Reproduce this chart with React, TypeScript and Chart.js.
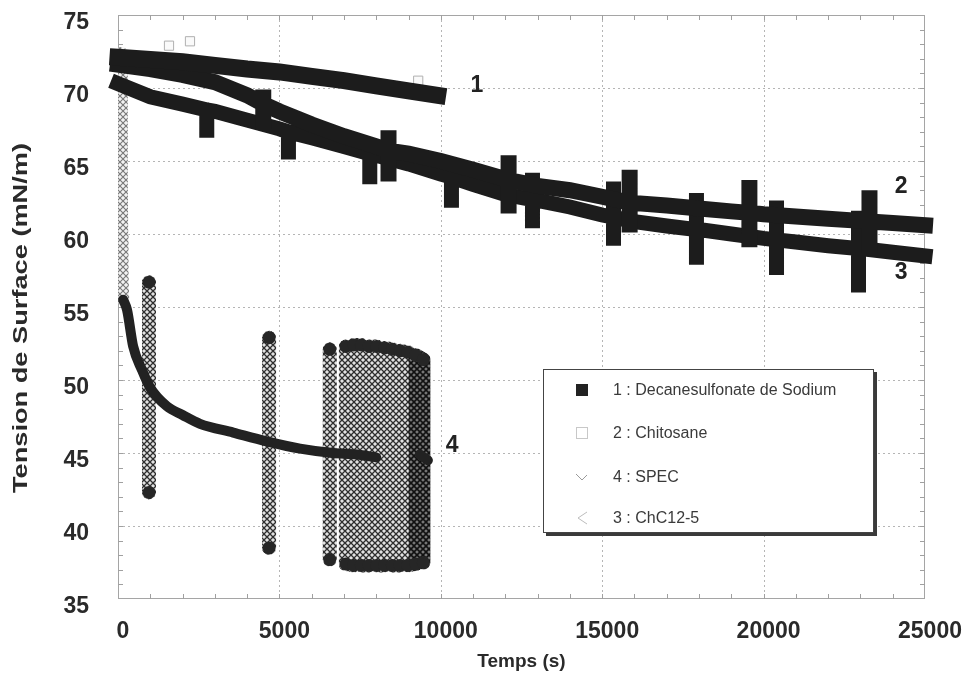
import React, { useEffect, useRef } from 'react';
import { Chart, registerables } from 'chart.js';

Chart.register(...registerables);

const FONT = "'Liberation Sans', Arial, sans-serif";

// Axis ticks
const xTicks = [0, 5000, 10000, 15000, 20000, 25000];
const yTicks = [35, 40, 45, 50, 55, 60, 65, 70, 75];

// Legend entries (in the order of the original legend)
const legendLabels = ['1 : Decanesulfonate de Sodium', '2 : Chitosane', '4 : SPEC', '3 : ChC12-5'];

// Series 1 : Decanesulfonate de Sodium
const decaneTime = [0, 1000, 2000, 3000, 4000, 5000, 6000, 7000, 8000, 9000, 9900];
const decaneTension = [72.1, 71.95, 71.8, 71.55, 71.3, 71.1, 70.8, 70.5, 70.15, 69.8, 69.5];

// Series 2 : Chitosane (main run, with perturbation spikes)
const chitosaneTime = [0, 1000, 2000, 3000, 4000, 4500, 4500, 4500, 4500, 5000, 6000, 7000, 8000,
  8380, 8380, 8380, 8380, 9000, 10000, 11000, 12100, 12100, 12100, 12100, 13000, 14000, 15000,
  15850, 15850, 15850, 15850, 17000, 18000, 19000, 19560, 19560, 19560, 19560, 20000, 21000,
  22000, 23000, 23280, 23280, 23280, 23280, 24000, 25000];
const chitosaneTension = [71.6, 71.3, 70.9, 70.4, 69.5, 68.9, 69.9, 67.2, 68.9, 68.4, 67.5, 66.7, 66.0,
  65.7, 67.1, 63.6, 65.7, 65.5, 65.0, 64.4, 63.7, 65.4, 61.4, 63.7, 63.3, 63.0, 62.55,
  62.15, 64.4, 60.1, 62.15, 61.95, 61.75, 61.55, 61.45, 63.7, 59.1, 61.45, 61.35, 61.2,
  61.05, 60.9, 60.85, 63.0, 58.7, 60.85, 60.75, 60.6];
// Chitosane isolated open-square points
const chitosaneStrayTime = [1580, 2230, 9300];
const chitosaneStrayTension = [72.9, 73.2, 70.5];

// Series 3 : ChC12-5
const chcTime = [0, 1000, 2000, 2750, 2750, 2750, 2750, 3000, 4000, 5000, 5280, 5280, 5280, 5280, 6000,
  7000, 7800, 7800, 7800, 7800, 8000, 9000, 10000, 10330, 10330, 10330, 10330, 11000, 12000,
  12840, 12840, 12840, 12840, 13000, 14000, 15000, 15350, 15350, 15350, 15350, 16000, 17000,
  17920, 17920, 17920, 17920, 18000, 19000, 20000, 20400, 20400, 20400, 20400, 21000, 22000,
  22940, 22940, 22940, 22940, 23000, 24000, 25000];
const chcTension = [70.3, 69.4, 68.9, 68.5, 68.6, 66.6, 68.5, 68.4, 67.8, 67.2, 67.0, 67.5, 65.1, 67.0, 66.6,
  66.0, 65.5, 66.0, 63.4, 65.5, 65.4, 64.8, 64.1, 63.9, 64.5, 61.8, 63.9, 63.4, 62.7,
  62.35, 64.2, 60.4, 62.35, 62.3, 61.85, 61.3, 61.15, 63.6, 59.2, 61.15, 60.85, 60.55,
  60.3, 62.8, 57.9, 60.3, 60.3, 60.0, 59.7, 59.6, 62.3, 57.2, 59.6, 59.45, 59.2,
  59.0, 61.6, 56.0, 59.0, 59.0, 58.75, 58.5];

// Series 4 : SPEC
const specDropTime = [110, 115, 120, 130, 140, 160];
const specDropTension = [72.4, 68.0, 64.0, 60.0, 57.5, 55.5];
const specCurveTime = [160, 280, 470, 740, 990, 1515, 2000, 2540, 3570, 4610, 5640, 6660, 7400, 8000, 9000, 9350, 9600];
const specCurveTension = [55.5, 54.8, 52.3, 50.7, 49.5, 48.2, 47.6, 47.0, 46.4, 45.8, 45.3, 45.0, 44.9, 44.7, null, 44.9, 44.5];
const specOscTime = [960, 960, 960, 4680, 4680, 4680, 6560, 6560, 6560,
  7060, 7060, 7300, 7300, 7540, 7540, 7780, 7780, 8020, 8020, 8260, 8260, 8500, 8500,
  8740, 8740, 8980, 8980, 9220, 9220, 9460, 9460];
const specOscTension = [56.7, 42.3, null, 52.9, 38.5, null, 52.1, 37.7, null,
  52.3, 37.4, 37.3, 52.4, 52.4, 37.3, 37.3, 52.3, 52.3, 37.3, 37.3, 52.2, 52.1, 37.3,
  37.3, 52.0, 51.9, 37.3, 37.4, 51.7, 51.4, 37.5];

// Curve number annotations
const curveLabelText = ['1', '2', '3', '4'];
const curveLabelTime = [11120, 24260, 24260, 10350];
const curveLabelTension = [70.15, 63.22, 57.33, 45.48];

const toPoints = (xs: number[], ys: (number | null)[]) => xs.map((x, i) => ({ x, y: ys[i] }));

function makeHatch(fg: string, bg: string, size: number, lw: number) {
  const c = document.createElement('canvas');
  c.width = size;
  c.height = size;
  const g = c.getContext('2d')!;
  g.fillStyle = bg;
  g.fillRect(0, 0, size, size);
  g.strokeStyle = fg;
  g.lineWidth = lw;
  g.beginPath();
  g.moveTo(0, 0);
  g.lineTo(size, size);
  g.moveTo(size, 0);
  g.lineTo(0, size);
  g.stroke();
  return g.createPattern(c, 'repeat')!;
}

const decor = {
  id: 'decor',
  beforeDatasetsDraw(chart: any) {
    const { ctx, chartArea: a, scales } = chart;
    const x = scales.x;
    const y = scales.y;
    ctx.save();
    ctx.strokeStyle = '#b5b5b5';
    ctx.lineWidth = 1;
    ctx.setLineDash([2, 3]);
    ctx.beginPath();
    for (const v of yTicks) {
      if (v === 35 || v === 75) continue;
      const py = Math.round(y.getPixelForValue(v)) + 0.5;
      ctx.moveTo(a.left, py);
      ctx.lineTo(a.right, py);
    }
    for (const v of xTicks) {
      if (v === 0 || v === 25000) continue;
      const px = Math.round(x.getPixelForValue(v)) + 0.5;
      ctx.moveTo(px, a.top);
      ctx.lineTo(px, a.bottom);
    }
    ctx.stroke();
    ctx.setLineDash([]);
    ctx.strokeStyle = '#a5a5a5';
    ctx.strokeRect(a.left + 0.5, a.top + 0.5, a.right - a.left - 1, a.bottom - a.top - 1);
    ctx.strokeStyle = '#a0a0a0';
    ctx.beginPath();
    for (let v = 36; v < 75; v++) {
      const py = Math.round(y.getPixelForValue(v)) + 0.5;
      ctx.moveTo(a.left, py);
      ctx.lineTo(a.left + 5, py);
      ctx.moveTo(a.right, py);
      ctx.lineTo(a.right - 5, py);
    }
    for (let t = 1000; t < 25000; t += 1000) {
      const px = Math.round(x.getPixelForValue(t)) + 0.5;
      ctx.moveTo(px, a.bottom);
      ctx.lineTo(px, a.bottom - 5);
      ctx.moveTo(px, a.top);
      ctx.lineTo(px, a.top + 5);
    }
    ctx.stroke();
    ctx.restore();
  },
  afterDraw(chart: any) {
    const { ctx, chartArea: a, scales } = chart;
    const x = scales.x;
    const y = scales.y;
    ctx.save();
    // curve numbers
    ctx.fillStyle = '#222';
    ctx.font = `bold 23px ${FONT}`;
    ctx.textAlign = 'center';
    ctx.textBaseline = 'middle';
    curveLabelText.forEach((t, i) => {
      ctx.fillText(t, x.getPixelForValue(curveLabelTime[i]), y.getPixelForValue(curveLabelTension[i]));
    });
    // axis titles
    ctx.fillStyle = '#2a2a2a';
    ctx.font = `bold 19px ${FONT}`;
    ctx.fillText('Temps (s)', (a.left + a.right) / 2, 662);
    ctx.save();
    ctx.translate(21, 318);
    ctx.rotate(-Math.PI / 2);
    ctx.scale(1.36, 1);
    ctx.font = `bold 20px ${FONT}`;
    ctx.fillText('Tension de Surface (mN/m)', 0, 0);
    ctx.restore();
    // legend
    const lx = 543, ly = 369, lw = 331, lh = 164;
    ctx.fillStyle = '#3a3a3a';
    ctx.fillRect(lx + 3, ly + 3, lw, lh);
    ctx.fillStyle = '#fff';
    ctx.fillRect(lx, ly, lw, lh);
    ctx.strokeStyle = '#444';
    ctx.lineWidth = 1;
    ctx.strokeRect(lx + 0.5, ly + 0.5, lw - 1, lh - 1);
    const rows = [390, 433, 477, 518];
    ctx.font = `16px ${FONT}`;
    ctx.textAlign = 'left';
    ctx.textBaseline = 'middle';
    legendLabels.forEach((lab, i) => {
      const cy = rows[i];
      const cx = 582;
      if (i === 0) {
        ctx.fillStyle = '#222';
        ctx.fillRect(cx - 6, cy - 6, 12, 12);
      } else if (i === 1) {
        ctx.strokeStyle = '#c8c8c8';
        ctx.strokeRect(cx - 5.5, cy - 5.5, 11, 11);
      } else if (i === 2) {
        ctx.strokeStyle = '#9a9a9a';
        ctx.beginPath();
        ctx.moveTo(cx - 6, cy - 3);
        ctx.lineTo(cx, cy + 3);
        ctx.lineTo(cx + 5, cy - 2);
        ctx.stroke();
      } else {
        ctx.strokeStyle = '#bdbdbd';
        ctx.beginPath();
        ctx.moveTo(cx + 5, cy - 6);
        ctx.lineTo(cx - 4, cy);
        ctx.lineTo(cx + 5, cy + 6);
        ctx.stroke();
      }
      ctx.fillStyle = '#3a3a3a';
      ctx.fillText(lab, 613, cy + 1);
    });
    ctx.restore();
  },
};

export default function App() {
  const ref = useRef<HTMLCanvasElement>(null);
  useEffect(() => {
    const canvas = ref.current!;
    const hatch = makeHatch('#2e2e2e', '#e2e2e2', 6, 1.3);
    const lightHatch = makeHatch('#777', '#f2f2f2', 6, 1.1);
    const darkHatch = makeHatch('#111', '#777', 6, 1.6);
    const dark = '#1c1c1c';
    const chart = new Chart(canvas, {
      type: 'scatter',
      data: {
        datasets: [
          {
            label: legendLabels[0],
            data: toPoints(decaneTime, decaneTension),
            showLine: true,
            borderColor: dark,
            backgroundColor: dark,
            borderWidth: 17,
            borderCapStyle: 'square',
            pointRadius: 0,
            clip: false,
            order: 1,
          } as any,
          {
            label: legendLabels[1],
            data: toPoints(chitosaneTime, chitosaneTension),
            showLine: true,
            borderColor: dark,
            backgroundColor: dark,
            borderWidth: 16,
            borderCapStyle: 'square',
            pointRadius: 0,
            clip: false,
            order: 2,
          } as any,
          {
            label: legendLabels[1] + ' (points)',
            data: toPoints(chitosaneStrayTime, chitosaneStrayTension),
            showLine: false,
            pointStyle: 'rect',
            pointRadius: 6.5,
            pointBorderWidth: 1,
            pointBorderColor: '#b0b0b0',
            pointBackgroundColor: '#fafafa',
            order: 5,
          } as any,
          {
            label: legendLabels[3],
            data: toPoints(chcTime, chcTension),
            showLine: true,
            borderColor: dark,
            backgroundColor: dark,
            borderWidth: 15,
            borderCapStyle: 'square',
            pointRadius: 0,
            clip: false,
            order: 3,
          } as any,
          {
            label: legendLabels[2] + ' (osc)',
            data: toPoints(specOscTime, specOscTension),
            showLine: true,
            borderColor: hatch,
            borderWidth: 14,
            borderCapStyle: 'round',
            borderJoinStyle: 'round',
            segment: {
              borderColor: (c: any) => (c.p0.parsed.x >= 9200 ? darkHatch : undefined),
            },
            pointRadius: 6.5,
            pointBorderWidth: 0,
            pointBackgroundColor: '#262626',
            order: 8,
          } as any,
          {
            label: legendLabels[2] + ' (drop)',
            data: toPoints(specDropTime, specDropTension),
            showLine: true,
            borderColor: lightHatch,
            borderWidth: 12,
            borderCapStyle: 'round',
            pointRadius: 0,
            order: 7,
          } as any,
          {
            label: legendLabels[2],
            data: toPoints(specCurveTime, specCurveTension),
            showLine: true,
            borderColor: '#222',
            backgroundColor: '#222',
            borderWidth: 10,
            borderCapStyle: 'round',
            cubicInterpolationMode: 'monotone',
            pointRadius: 0,
            order: 6,
          } as any,
        ],
      },
      options: {
        responsive: false,
        animation: false,
        devicePixelRatio: 1,
        layout: { padding: { left: 0, top: 15, right: 40, bottom: 0 } },
        plugins: { legend: { display: false }, tooltip: { enabled: false } },
        scales: {
          x: {
            type: 'linear',
            min: 0,
            max: 25000,
            afterFit: (s: any) => {
              s.height = 78;
              s.paddingLeft = 0;
              s.paddingRight = 0;
            },
            afterBuildTicks: (s: any) => { s.ticks = xTicks.map((v) => ({ value: v })); },
            grid: { display: false },
            border: { display: false },
            ticks: {
              font: { family: FONT, size: 23, weight: 'bold' },
              color: '#2a2a2a',
              padding: 11,
              labelOffset: 5,
              maxRotation: 0,
              autoSkip: false,
              callback: (v: any) => String(v),
            },
          },
          y: {
            type: 'linear',
            min: 35,
            max: 75,
            afterFit: (s: any) => {
              s.width = 118;
              s.paddingTop = 0;
              s.paddingBottom = 0;
            },
            afterBuildTicks: (s: any) => { s.ticks = yTicks.map((v) => ({ value: v })); },
            grid: { display: false },
            border: { display: false },
            ticks: {
              font: { family: FONT, size: 23, weight: 'bold' },
              color: '#2a2a2a',
              padding: 21,
              labelOffset: 8,
              autoSkip: false,
              callback: (v: any) => String(v),
            },
          },
        },
      } as any,
      plugins: [decor],
    });
    return () => chart.destroy();
  }, []);
  return (
    <div style={{ position: 'absolute', left: 0, top: 0, width: 965, height: 677, background: '#fff' }}>
      <canvas ref={ref} width={965} height={677} style={{ display: 'block' }} />
    </div>
  );
}
